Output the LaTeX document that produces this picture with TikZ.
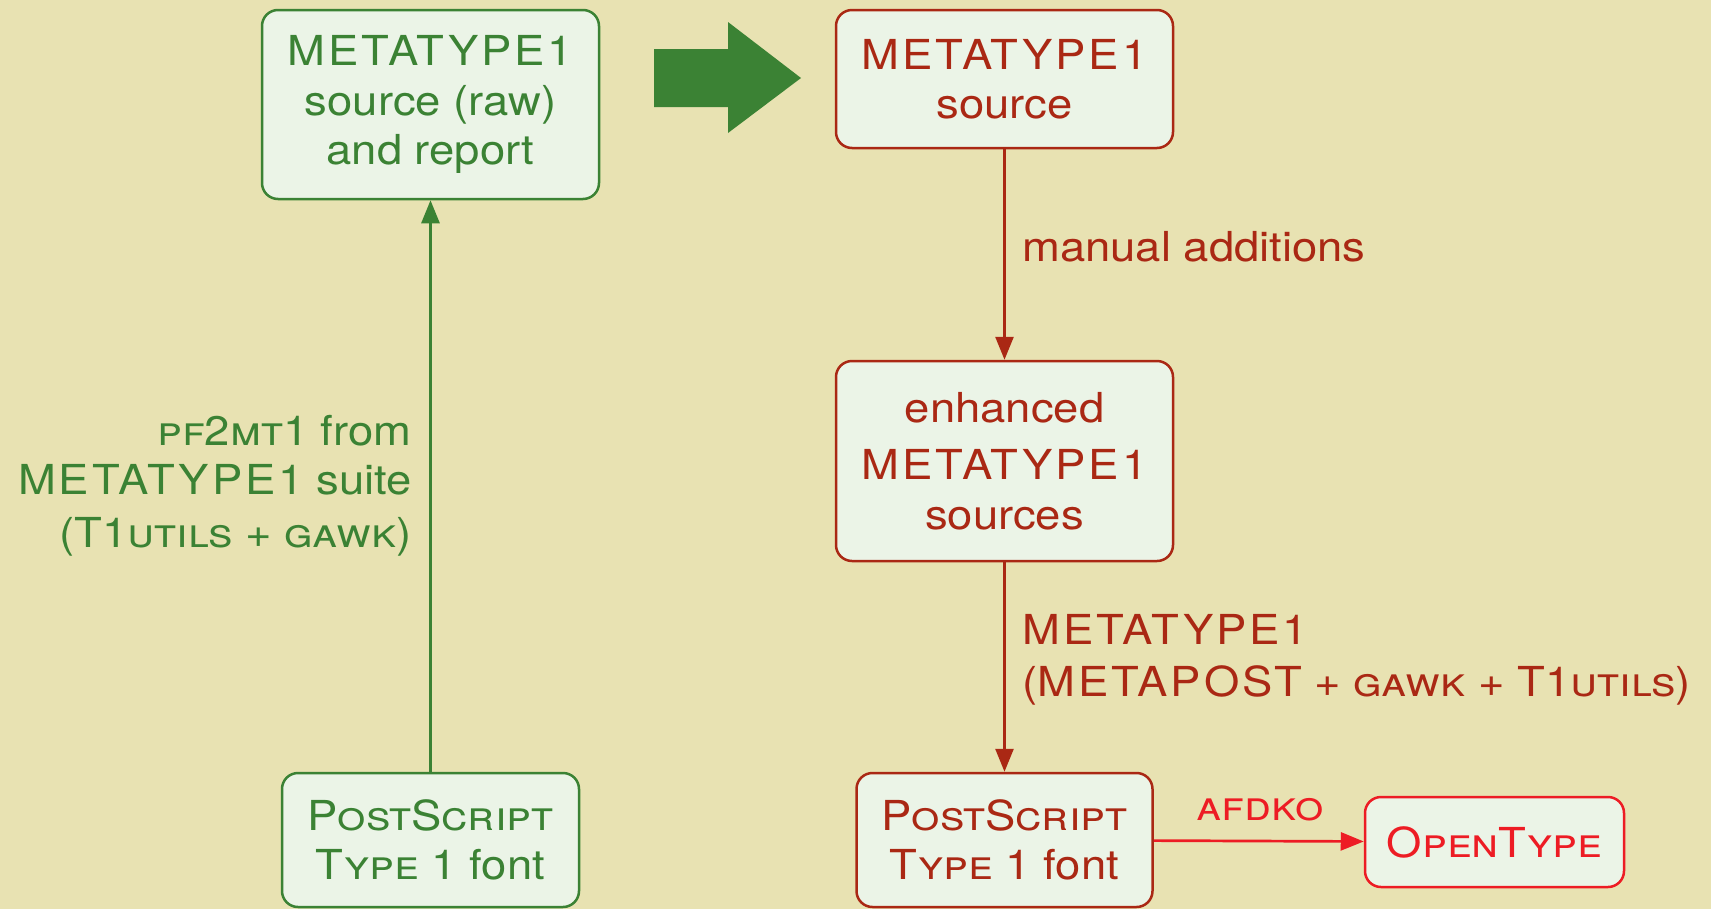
\documentclass[tikz,border=0pt]{standalone}
\usepackage{fontspec}
\setmainfont{TeX Gyre Heros}[FakeStretch=1.1]
\usetikzlibrary{arrows.meta}
\usetikzlibrary{positioning}

\definecolor{fundo}{RGB}{232,226,178}
\definecolor{claro}{RGB}{235,244,231}
\definecolor{verde}{RGB}{59,130,52}
\definecolor{vinho}{RGB}{170,40,20}
\definecolor{rubro}{RGB}{237,28,36}

% logotipos
\newcommand{\mtlogo}[1]{{\addfontfeatures{LetterSpace=7}#1}}

\begin{document}
\begin{tikzpicture}[>={Triangle[length=0.46cm,width=0.36cm]},
    txt/.style={font=\fontsize{23.5}{28}\selectfont, align=center},
    rotulo/.style={txt, inner sep=0pt},
    caixa/.style={txt, draw, fill=claro, rounded corners=0.32cm,
        line width=0.05cm, inner sep=0pt},
    seta/.style={->, line width=0.054cm}]

    % fundo
    \fill[fundo] (0,0) rectangle (34.22,-18.18);
    \useasboundingbox (0,0) rectangle (34.22,-18.18);

    % lado esquerdo (verde)
    \node[caixa, draw=verde, text=verde, minimum width=6.74cm, minimum height=3.78cm]
        (raw) at (8.61,-2.09) {\mtlogo{METATYPE1}\\source (raw)\\and report};
    \node[caixa, draw=verde, text=verde, minimum width=5.94cm, minimum height=2.68cm]
        (pst0) at (8.61,-16.8) {\textsc{PostScript}\\\textsc{Type} 1 font};

    % lado direito (vermelho)
    \node[caixa, draw=vinho, text=vinho, minimum width=6.74cm, minimum height=2.76cm]
        (src) at (20.09,-1.58) {\mtlogo{METATYPE1}\\source};
    \node[caixa, draw=vinho, text=vinho, minimum width=6.74cm, minimum height=4cm]
        (enh) at (20.09,-9.22) {enhanced\\[0.16cm]\mtlogo{METATYPE1}\\[0.02cm]sources};
    \node[caixa, draw=vinho, text=vinho, minimum width=5.92cm, minimum height=2.68cm]
        (pst1) at (20.09,-16.8) {\textsc{PostScript}\\\textsc{Type} 1 font};
    \node[caixa, draw=rubro, text=rubro, minimum width=5.18cm, minimum height=1.8cm]
        (otf) at (29.89,-16.84) {\textsc{OpenType}};

    % seta grande
    \fill[verde] (13.08,-0.98) -- (14.56,-0.98) -- (14.56,-0.44) -- (16.02,-1.56)
        -- (14.56,-2.66) -- (14.56,-2.14) -- (13.08,-2.14) -- cycle;

    % conectores
    \draw[seta, verde] (pst0) -- (raw);
    \draw[seta, vinho] (src) -- (enh);
    \draw[seta, vinho] (enh) -- (pst1);
    \draw[seta, rubro] (pst1) -- (otf);

    % rotulos
    \node[rotulo, text=verde, align=right, anchor=east] (lbconv) at (8.24,-9.72)
        {\textsc{pf}2\textsc{mt}1 from\\\mtlogo{METATYPE1} suite\\[0.07cm](T1\textsc{utils} + \textsc{gawk})};
    \node[rotulo, text=vinho, anchor=west] (lbman) at (20.44,-4.94) {manual additions};
    \node[rotulo, text=vinho, align=left, anchor=west] (lbmt) at (20.44,-13.2)
        {\mtlogo{METATYPE1}\\[0.06cm](\mtlogo{METAPOST} + \textsc{gawk} + T1\textsc{utils})};
    \node[rotulo, text=rubro] (lbafd) at (25.2,-16.2) {\textsc{afdko}};

\end{tikzpicture}
\end{document}
